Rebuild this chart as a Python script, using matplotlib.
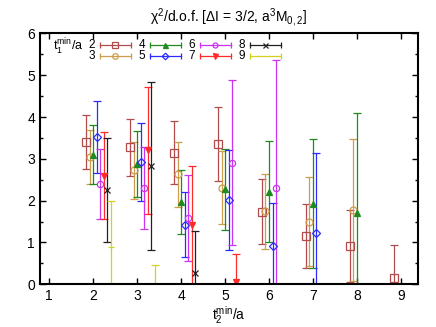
import numpy as np
import matplotlib
matplotlib.use('Agg')
import matplotlib.pyplot as plt

plt.rcParams['font.family'] = ['Liberation Sans', 'DejaVu Sans']
plt.rcParams['mathtext.default'] = 'regular'
plt.rcParams['font.size'] = 10

# one list per t1min/a series: t2 positions, chi2/dof and its error
t1_labels = ['2', '3', '4', '5', '6', '7', '8', '9']
t2_vals = [
    [2, 3, 4, 5, 6, 7, 8, 9],
    [2, 3, 4, 5, 6, 7, 8],
    [2, 3, 4, 5, 6, 7, 8],
    [2, 3, 4, 5, 6, 7],
    [2, 3, 4, 5, 6],
    [2, 3, 4, 5],
    [2, 3, 4],
    [2, 3],
]
chi2_vals = [
    [3.41, 3.28, 3.15, 3.36, 1.74, 1.16, 0.92, 0.16],
    [3.04, 2.73, 2.63, 2.31, 1.75, 1.50, 1.77],
    [3.10, 2.87, 1.97, 2.27, 2.21, 1.93, 1.71],
    [3.52, 2.93, 1.43, 2.02, 0.92, 1.23],
    [2.40, 2.30, 1.59, 2.91, 2.30],
    [2.60, 3.21, 1.41, 0.06],
    [2.25, 2.82, 0.28],
    [0.89, -0.05],
]
chi2_errs = [
    [0.64, 0.68, 0.75, 0.89, 0.77, 0.77, 0.86, 0.77],
    [0.64, 0.68, 0.77, 0.87, 0.90, 1.07, 1.70],
    [0.71, 0.79, 0.77, 0.97, 1.21, 1.55, 2.38],
    [0.86, 0.93, 0.77, 1.19, 1.03, 1.92],
    [0.84, 0.98, 1.03, 1.97, 3.07],
    [1.04, 1.52, 1.42, 0.66],
    [1.24, 2.01, 0.99],
    [1.11, 0.50],
]

colors = ['#b24c4c', '#cc9d4a', '#1f8a1f', '#2b2bff', '#cc33f0', '#ff2b2b', '#202020', '#d2d21e']
markers = ['s', 'o', '^', 'D', 'o', 'v', 'x', '_']
msizes = [5.5, 5, 4.5, 4.2, 4.5, 4.5, 4.5, 5]
hollow = [True, True, False, True, True, False, False, False]

fig = plt.figure(figsize=(4.36, 3.27), dpi=100)
ax = fig.add_axes([0.0917, 0.1306, 0.867, 0.767])

for i in range(len(t1_labels)):
    x = np.array(t2_vals[i]) + (int(t1_labels[i]) - 4) * 0.08
    mfc = 'none' if hollow[i] else colors[i]
    ax.errorbar(x, chi2_vals[i], yerr=chi2_errs[i], fmt=markers[i], color=colors[i],
                mfc=mfc, ms=msizes[i], mew=0.9, elinewidth=0.9, capsize=3, capthick=0.9)

ax.set_xlim(0.79, 9.39)
ax.set_ylim(0, 6)
ax.set_xticks(range(1, 10))
ax.set_yticks(range(0, 7))
ax.set_yticks(np.arange(0, 6.01, 0.5), minor=True)
ax.tick_params(which='both', direction='in', top=True, right=True, width=1)
ax.tick_params(which='major', length=4, labelsize=10)
ax.tick_params(which='minor', length=2)
for s in ax.spines.values():
    s.set_linewidth(1.5)

ax.set_title(r'χ$^2$/d.o.f. [ΔI = 3/2, a$^3$M$_{0,2}$]', fontsize=10, pad=8)
ax.set_xlabel(r't$_2^{min}$/a', fontsize=10, labelpad=1)

# gnuplot style key, 4 columns x 2 rows
W, H = 378.0, 250.8
def fx(px):
    return (px - 40) / W
def fy(py):
    return (284.3 - py) / H

ax.text(fx(84), fy(47), r't$_1^{min}$/a', transform=ax.transAxes, ha='right', va='center', fontsize=9)
for i in range(len(t1_labels)):
    col, row = i // 2, i % 2
    yy = fy(45 + 11 * row)
    x0, x1 = fx(100 + 50 * col), fx(131 + 50 * col)
    ax.text(fx(95 + 50 * col), yy, t1_labels[i], transform=ax.transAxes,
            ha='right', va='center', fontsize=8.5)
    ax.plot([x0, x1], [yy, yy], color=colors[i], lw=0.9, transform=ax.transAxes, clip_on=False)
    ax.plot([x0, x1], [yy, yy], ls='none', marker='|', ms=4, mew=0.9, color=colors[i],
            transform=ax.transAxes, clip_on=False)
    if markers[i] != '_':
        mfc = 'none' if hollow[i] else colors[i]
        ax.plot([(x0 + x1) / 2], [yy], marker=markers[i], ms=msizes[i] * 0.8, mew=0.9,
                color=colors[i], mfc=mfc, transform=ax.transAxes, clip_on=False)

fig.savefig('out.png', dpi=100)
